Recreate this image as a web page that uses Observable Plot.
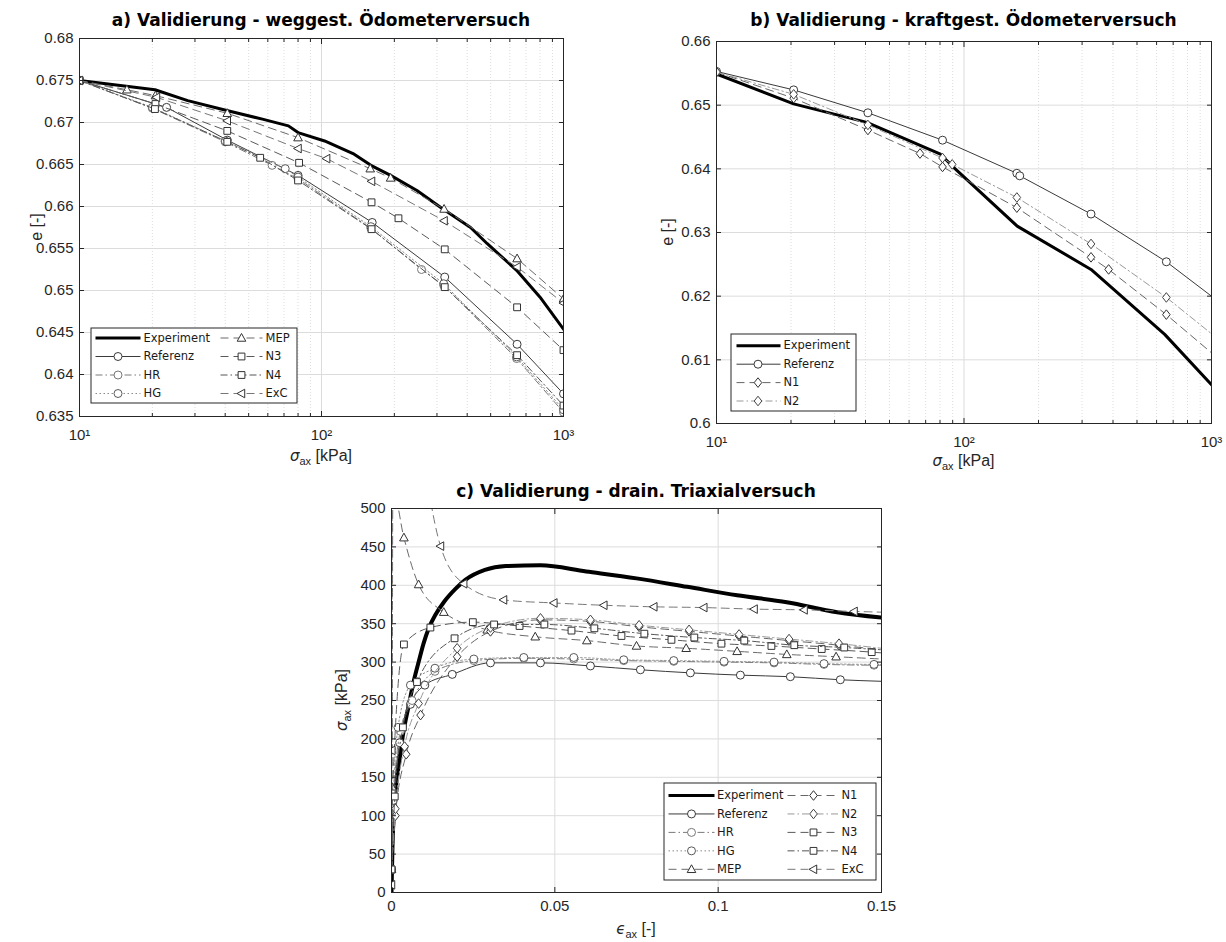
<!DOCTYPE html>
<html>
<head>
<meta charset="utf-8">
<script src="https://cdn.jsdelivr.net/npm/d3@7"></script>
<script src="https://cdn.jsdelivr.net/npm/@observablehq/plot@0.6"></script>
<style>
  body { margin: 0; background: #fff; }
  #root { position: relative; width: 1226px; height: 942px; overflow: hidden; background: #fff;
          font-family: "Liberation Sans", Arial, sans-serif; color: #262626; }
  .box { position: absolute; }
  .title { position: absolute; font-family: "DejaVu Sans", sans-serif; font-weight: bold; font-size: 17px;
           color: #000; white-space: nowrap; transform: translate(-50%, -50%); line-height: 20px; }
  .lab { position: absolute; font-size: 16px; white-space: nowrap; line-height: 18px; color: #262626; }
  .lab sub { font-size: 11px; vertical-align: -4px; }
  .lab i { font-family: "DejaVu Sans", sans-serif; font-size: 15px; }
  .h { transform: translate(-50%, -50%); }
  .v { transform: translate(-50%, -50%) rotate(-90deg); }
</style>
</head>
<body>
<div id="root"></div>
<script>
// ---------------- DATA ----------------
// Panel a: σax [kPa] vs e [-]
const expA = [[10,0.675],[20.5,0.6739],[28,0.6726],[41,0.6714],[57,0.6704],[73,0.6696],[80,0.6688],[103,0.6678],[135,0.6663],[160,0.6649],[193,0.6637],[248,0.6619],[310,0.6599],[413,0.6575],[483,0.6556],[640,0.6524],[800,0.6492],[1000,0.6454]];
const refA = [[10,0.675],[22.9,0.6718],[40.8,0.6679],[80,0.6637],[162,0.6581],[323,0.6516],[643,0.6436],[1000,0.6377]];
const hrA  = [[10,0.675],[20,0.6717],[40,0.6677],[62.5,0.6649],[80,0.6633],[160,0.6574],[259,0.6525],[320,0.6506],[640,0.6419],[1000,0.6355]];
const hgA  = [[10,0.675],[20,0.6718],[40,0.6678],[70.8,0.6645],[80,0.6635],[160,0.6576],[320,0.6508],[640,0.6421],[1000,0.6358]];
const mepA = [[10,0.675],[15.7,0.6739],[20.6,0.6732],[40.8,0.6711],[80,0.6682],[159,0.6645],[193,0.6634],[321,0.6597],[643,0.6538],[1000,0.649]];
const n3A  = [[10,0.675],[20.6,0.6722],[40.8,0.669],[80.8,0.6652],[161,0.6605],[208,0.6586],[323,0.6549],[643,0.648],[1000,0.6429]];
const n4A  = [[10,0.675],[20.5,0.6716],[40.8,0.6677],[55.8,0.6658],[80,0.6631],[161,0.6573],[323,0.6504],[643,0.6423],[1000,0.6363]];
const excA = [[10,0.675],[20.8,0.673],[40.8,0.6702],[80,0.6669],[105,0.6657],[161,0.663],[321,0.6583],[643,0.6528],[1000,0.6485]];

// Panel b: σax [kPa] vs e [-]
const expB = [[10,0.6549],[20.5,0.6502],[40.5,0.6473],[80.3,0.6423],[91,0.6402],[164,0.631],[326,0.6242],[647,0.614],[1000,0.6061]];
const refB = [[10,0.6553],[20.5,0.6524],[40.9,0.6488],[81.9,0.6445],[163.5,0.6393],[168,0.6389],[326,0.6329],[657,0.6254],[1000,0.62]];
const n1B  = [[10,0.6552],[20.5,0.6511],[40.9,0.6461],[66.4,0.6424],[81.9,0.6403],[163.5,0.6339],[326,0.6261],[384,0.6242],[657,0.6171],[1000,0.6111]];
const n2B  = [[10,0.6552],[20.5,0.6517],[40.9,0.6469],[81.9,0.6417],[89.6,0.6407],[163.5,0.6355],[326,0.6282],[657,0.6198],[1000,0.6141]];

// Panel c: εax [-] vs σax [kPa]
const expC = [[0,0],[0.0003,60],[0.0008,110],[0.0014,140],[0.0022,165],[0.0035,205],[0.0053,244],[0.0068,275],[0.0083,300],[0.0098,324],[0.0114,344],[0.0135,362],[0.016,378],[0.0195,395],[0.0226,407],[0.0286,420],[0.035,425],[0.0456,426],[0.0596,418],[0.075,409],[0.0905,398],[0.1058,387],[0.121,378],[0.1364,365],[0.15,358]];
const refC = [[0,30],[0.0006,110],[0.0025,195],[0.0058,245],[0.0102,270],[0.0186,284],[0.0303,299],[0.0456,299],[0.0609,295],[0.0762,290],[0.0915,286],[0.1068,283],[0.1221,281],[0.1374,277],[0.15,275]];
const hrC  = [[0,30],[0.0004,105],[0.0027,210],[0.0063,250],[0.0133,288],[0.0252,302],[0.0405,305],[0.0558,304],[0.0711,302],[0.0864,301],[0.1018,300],[0.1171,299],[0.1324,297],[0.1477,296],[0.15,296]];
const hgC  = [[0,30],[0.0005,120],[0.002,215],[0.0058,270],[0.0133,292],[0.0252,304],[0.0405,306],[0.0558,306],[0.0711,303],[0.0864,302],[0.1018,301],[0.1171,300],[0.1324,298],[0.1477,297],[0.15,297]];
const mepC = [[0,30],[0.0002,137],[0.0004,525],[0.0038,462],[0.0083,401],[0.016,365],[0.0293,342],[0.044,333],[0.0598,328],[0.075,321],[0.0902,318],[0.1058,314],[0.121,310],[0.1361,307],[0.15,304]];
const n1C  = [[0,30],[0.0012,100],[0.0045,180],[0.0089,231],[0.0201,307],[0.0303,340],[0.0456,355],[0.0609,353],[0.0758,346],[0.0911,340],[0.1064,334],[0.1217,328],[0.137,322],[0.15,316]];
const n2C  = [[0,30],[0.0012,109],[0.004,190],[0.0083,246],[0.0201,318],[0.0303,345],[0.0456,357],[0.0609,355],[0.0758,348],[0.0911,342],[0.1064,336],[0.1217,330],[0.137,324],[0.15,318]];
const n3C  = [[0,30],[0.0003,129],[0.0038,323],[0.0119,345],[0.0249,352],[0.0392,347],[0.0551,341],[0.0704,334],[0.0857,329],[0.101,324],[0.1163,321],[0.1317,317],[0.147,313],[0.15,312]];
const n4C  = [[0,30],[0.001,125],[0.0035,215],[0.0078,274],[0.0193,331],[0.0314,349],[0.0468,349],[0.0621,344],[0.0774,337],[0.0927,332],[0.108,328],[0.1233,322],[0.1386,319],[0.15,316]];
const excC = [[0,10],[0.0001,185],[0.0003,900],[0.008,620],[0.015,451],[0.0221,402],[0.0343,381],[0.0497,377],[0.065,374],[0.0803,372],[0.0956,371],[0.111,369],[0.1263,368],[0.1416,366],[0.15,365]];

// Ticks and labels
const logTicks = [10, 100, 1000];
const logTickLabels = ["10\u00B9", "10\u00B2", "10\u00B3"];
const logMinor = [20,30,40,50,60,70,80,90,200,300,400,500,600,700,800,900];
const yTicksA = [0.635,0.64,0.645,0.65,0.655,0.66,0.665,0.67,0.675,0.68];
const yTicksB = [0.6,0.61,0.62,0.63,0.64,0.65,0.66];
const xTicksC = [0, 0.05, 0.1, 0.15];
const yTicksC = [0,50,100,150,200,250,300,350,400,450,500];

const titles = {
  a: "a) Validierung - weggest. Ödometerversuch",
  b: "b) Validierung - kraftgest. Ödometerversuch",
  c: "c) Validierung - drain. Triaxialversuch"
};
const legendA = ["Experiment","Referenz","HR","HG","MEP","N3","N4","ExC"];
const legendB = ["Experiment","Referenz","N1","N2"];
const legendC = ["Experiment","Referenz","HR","HG","MEP","N1","N2","N3","N4","ExC"];

// ---------------- STYLES ----------------
const GRID = "#dcdcdc", AX = "#262626";
const DASH = "8,5", DASHDOT = "7,3,1.5,3", DOT = "1.5,2.5";
const styles = {
  Experiment: {stroke: "#000", width: 3},
  Referenz: {stroke: "#3a3a3a", width: 1, symbol: "circle", mstroke: "#3a3a3a"},
  HR:  {stroke: "#7a7a7a", width: 1, dash: DASHDOT, symbol: "circle", mstroke: "#777"},
  HG:  {stroke: "#8a8a8a", width: 1, dash: DOT, symbol: "circle", mstroke: "#5a5a5a"},
  MEP: {stroke: "#6a6a6a", width: 1, dash: DASH, symbol: "triUp", mstroke: "#333"},
  N1:  {stroke: "#666", width: 1, dash: DASH, symbol: "diamond", mstroke: "#333"},
  N2:  {stroke: "#9a9a9a", width: 1, dash: DASHDOT, symbol: "diamond", mstroke: "#444"},
  N3:  {stroke: "#5a5a5a", width: 1, dash: DASH, symbol: "square", mstroke: "#333"},
  N4:  {stroke: "#555", width: 1, dash: DASHDOT, symbol: "square", mstroke: "#333"},
  ExC: {stroke: "#777", width: 1, dash: DASH, symbol: "triLeft", mstroke: "#333"}
};
const rad = s => Math.sqrt(s / Math.PI);
const SYM = {
  circle:  {draw(c, s) { const r = rad(s); c.moveTo(r, 0); c.arc(0, 0, r, 0, 2 * Math.PI); c.closePath(); }},
  square:  {draw(c, s) { const r = rad(s) * 0.85; c.moveTo(-r, -r); c.lineTo(r, -r); c.lineTo(r, r); c.lineTo(-r, r); c.closePath(); }},
  triUp:   {draw(c, s) { const r = rad(s); c.moveTo(0, -1.05 * r); c.lineTo(r, 0.75 * r); c.lineTo(-r, 0.75 * r); c.closePath(); }},
  triLeft: {draw(c, s) { const r = rad(s); c.moveTo(-1.05 * r, 0); c.lineTo(0.75 * r, -r); c.lineTo(0.75 * r, r); c.closePath(); }},
  diamond: {draw(c, s) { const r = rad(s); c.moveTo(0, -1.2 * r); c.lineTo(0.95 * r, 0); c.lineTo(0, 1.2 * r); c.lineTo(-0.95 * r, 0); c.closePath(); }}
};
const SR = {circle: 4, square: 4, triUp: 4.3, triLeft: 4.3, diamond: 4};

// ---------------- BUILDERS ----------------
const root = document.getElementById("root");
function place(el, left, top) {
  const d = document.createElement("div");
  d.className = "box";
  d.style.left = left + "px"; d.style.top = top + "px";
  d.appendChild(el); root.appendChild(d);
}
function html(cls, content, x, y) {
  const d = document.createElement("div");
  d.className = cls;
  d.style.left = x + "px"; d.style.top = y + "px";
  d.innerHTML = content;
  root.appendChild(d);
}

function panel(cfg) {
  const X = d => d[0], Y = d => d[1];
  const marks = [];
  if (cfg.xMinor) marks.push(Plot.gridX({ticks: cfg.xMinor, stroke: GRID, strokeOpacity: 1, strokeDasharray: "1,2"}));
  marks.push(Plot.gridX({ticks: cfg.xTicks, stroke: GRID, strokeOpacity: 1}));
  marks.push(Plot.gridY({ticks: cfg.yTicks, stroke: GRID, strokeOpacity: 1}));
  for (const [name, pts] of cfg.series) {
    const s = styles[name];
    const w = name === "Experiment" ? cfg.expWidth : s.width;
    marks.push(Plot.line(pts, {x: X, y: Y, stroke: s.stroke, strokeWidth: w, strokeDasharray: s.dash,
      curve: cfg.curve, clip: true}));
    if (s.symbol) {
      const mp = cfg.markLast ? pts : pts.slice(0, -1);
      marks.push(Plot.dot(mp, {x: X, y: Y, symbol: SYM[s.symbol], r: SR[s.symbol], fill: "white",
        stroke: s.mstroke, strokeWidth: 1, clip: true}));
    }
  }
  marks.push(Plot.frame({stroke: AX, strokeWidth: 1}));
  const none = () => "";
  marks.push(
    Plot.axisX({anchor: "bottom", ticks: cfg.xTicks, tickFormat: cfg.xFormat, tickSize: 0, tickPadding: cfg.xPad,
      fontSize: 15, label: null, fill: AX}),
    Plot.axisX({anchor: "bottom", ticks: cfg.xTicks, tickFormat: none, tickSize: -5, stroke: AX, label: null}),
    Plot.axisX({anchor: "top", ticks: cfg.xTicks, tickFormat: none, tickSize: -5, stroke: AX, label: null}),
    Plot.axisY({anchor: "left", ticks: cfg.yTicks, tickFormat: cfg.yFormat, tickSize: 0, tickPadding: 6,
      fontSize: 15, label: null, fill: AX}),
    Plot.axisY({anchor: "left", ticks: cfg.yTicks, tickFormat: none, tickSize: -5, stroke: AX, label: null}),
    Plot.axisY({anchor: "right", ticks: cfg.yTicks, tickFormat: none, tickSize: -5, stroke: AX, label: null})
  );
  if (cfg.xMinor) marks.push(
    Plot.axisX({anchor: "bottom", ticks: cfg.xMinor, tickFormat: none, tickSize: -3, stroke: AX, label: null}),
    Plot.axisX({anchor: "top", ticks: cfg.xMinor, tickFormat: none, tickSize: -3, stroke: AX, label: null})
  );
  return Plot.plot({
    width: cfg.width, height: cfg.height,
    marginTop: cfg.mt, marginRight: cfg.mr, marginBottom: cfg.mb, marginLeft: cfg.ml,
    x: {type: cfg.xType, domain: cfg.xDomain},
    y: {type: "linear", domain: cfg.yDomain},
    style: {fontFamily: '"Liberation Sans", Arial, sans-serif', color: AX, background: "transparent", overflow: "visible"},
    marks
  });
}

function legend(names, g) {
  const marks = [Plot.frame({stroke: AX, strokeWidth: 1, fill: "white", inset: 0.5})];
  names.forEach((name, i) => {
    const col = g.cols[Math.floor(i / g.rows)], row = i % g.rows;
    const y = g.y0 + row * g.dy;
    const s = styles[name];
    const item = [{name, y, x1: col.x1, x2: col.x2, xm: col.xm, xt: col.xt}];
    marks.push(Plot.link(item, {x1: "x1", x2: "x2", y1: "y", y2: "y", stroke: s.stroke,
      strokeWidth: name === "Experiment" ? 3 : 1, strokeDasharray: s.dash}));
    if (s.symbol) marks.push(Plot.dot(item, {x: "xm", y: "y", symbol: SYM[s.symbol], r: SR[s.symbol],
      fill: "white", stroke: s.mstroke, strokeWidth: 1}));
    marks.push(Plot.text(item, {x: "xt", y: "y", text: "name", textAnchor: "start", fill: "#1a1a1a", fontSize: 11.5}));
  });
  return Plot.plot({
    width: g.width, height: g.height, margin: 0,
    x: {type: "identity", axis: null}, y: {type: "identity", axis: null},
    style: {fontFamily: '"DejaVu Sans", sans-serif', background: "transparent", overflow: "visible"},
    marks
  });
}

const fmtLog = d => logTickLabels[logTicks.indexOf(d)];
const fmtNum = d => String(+d.toFixed(3));

// ---------------- PANEL A ----------------
place(panel({
  width: 600, height: 470, mt: 38, mr: 37, mb: 54, ml: 79,
  xType: "log", xDomain: [10, 1000], yDomain: [0.635, 0.68],
  xTicks: logTicks, xMinor: logMinor, yTicks: yTicksA, xFormat: fmtLog, yFormat: fmtNum, xPad: 13,
  curve: "linear", markLast: true, expWidth: 3,
  series: [["Experiment", expA], ["Referenz", refA], ["HR", hrA], ["HG", hgA], ["MEP", mepA], ["N3", n3A], ["N4", n4A], ["ExC", excA]]
}), 0, 0);
place(legend(legendA, {width: 207, height: 76, rows: 4, y0: 10.5, dy: 18.5,
  cols: [{x1: 5, x2: 50, xm: 27.5, xt: 53}, {x1: 130, x2: 172, xm: 151, xt: 175}]}), 90, 327);

// ---------------- PANEL B ----------------
place(panel({
  width: 606, height: 470, mt: 41, mr: 15, mb: 47, ml: 96,
  xType: "log", xDomain: [10, 1000], yDomain: [0.6, 0.66],
  xTicks: logTicks, xMinor: logMinor, yTicks: yTicksB, xFormat: fmtLog, yFormat: fmtNum, xPad: 13,
  curve: "linear", markLast: false, expWidth: 3,
  series: [["Experiment", expB], ["Referenz", refB], ["N1", n1B], ["N2", n2B]]
}), 620, 0);
place(legend(legendB, {width: 126, height: 78, rows: 4, y0: 12.3, dy: 18.4,
  cols: [{x1: 6, x2: 50, xm: 27.5, xt: 53}]}), 730, 333);

// ---------------- PANEL C ----------------
place(panel({
  width: 600, height: 472, mt: 38, mr: 19, mb: 50, ml: 91,
  xType: "linear", xDomain: [0, 0.15], yDomain: [0, 500],
  xTicks: xTicksC, xMinor: null, yTicks: yTicksC, xFormat: fmtNum, yFormat: fmtNum, xPad: 8,
  curve: "monotone-x", markLast: false, expWidth: 4,
  series: [["Experiment", expC], ["Referenz", refC], ["HR", hrC], ["HG", hgC], ["MEP", mepC],
           ["N1", n1C], ["N2", n2C], ["N3", n3C], ["N4", n4C], ["ExC", excC]]
}), 300, 470);
place(legend(legendC, {width: 213, height: 98, rows: 5, y0: 13, dy: 18.45,
  cols: [{x1: 5, x2: 51, xm: 28, xt: 53.5}, {x1: 124, x2: 175, xm: 150, xt: 178}]}), 663, 782);

// ---------------- TEXT ----------------
html("title", titles.a, 321, 20);
html("title", titles.b, 963.5, 20);
html("title", titles.c, 636, 491);
const sigLab = "<i>σ</i><sub>ax</sub> [kPa]";
html("lab h", sigLab, 321, 458);
html("lab v", "e [-]", 37, 227);
html("lab h", sigLab, 963.5, 463);
html("lab v", "e [-]", 668, 232);
html("lab h", "<i>ϵ</i><sub>ax</sub> [-]", 636, 931);
html("lab v", sigLab, 344, 700);
</script>
</body>
</html>
